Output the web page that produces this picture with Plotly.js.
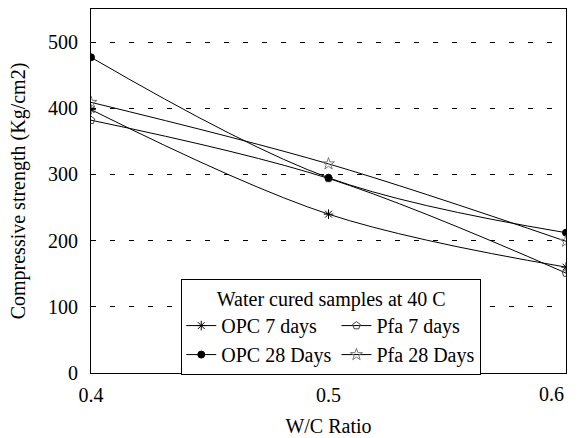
<!DOCTYPE html>
<html><head><meta charset="utf-8">
<script src="https://cdn.plot.ly/plotly-3.0.1.min.js"></script>
<style>html,body{margin:0;padding:0;background:#fff;}#chart{width:578px;height:438px;}</style>
</head><body><div id="chart"></div>
<script>
const wcRatio = [0.4, 0.5, 0.6];
const opc7 = [398, 240, 160];
const pfa7 = [382, 294, 151];
const opc28 = [477, 295, 212];
const pfa28 = [409, 316, 199];
const seriesNames = ['OPC 7 days', 'Pfa 7 days', 'OPC 28 Days', 'Pfa 28 Days'];
const legendTitle = 'Water cured samples at 40 C';
const xTicks = [0.4, 0.5, 0.6];
const yTicks = [0, 100, 200, 300, 400, 500];

const F = '"Liberation Serif", "Times New Roman", "DejaVu Serif", serif';
function tr(y, name, group, symbol, mcolor, size) {
  return {x: wcRatio, y: y, name: name, legendgroup: group, type: 'scatter', mode: 'lines+markers',
    line: {color: '#000', width: 1, shape: 'spline', smoothing: 1},
    marker: {symbol: symbol, size: size, color: mcolor, line: {color: mcolor, width: 1}}};
}
const data = [
  tr(opc7, seriesNames[0], 'opc', 'asterisk-open', '#000', 8),
  tr(pfa7, seriesNames[1], 'pfa', 'pentagon-open', '#444', 8),
  tr(opc28, seriesNames[2], 'opc', 'circle', '#000', 7),
  tr(pfa28, seriesNames[3], 'pfa', 'star-open', '#777', 9)
];
// the last x tick label is right-aligned to the axis end (as in the original), drawn as an annotation
const lastX = xTicks[xTicks.length - 1];
const xTickText = xTicks.map((v, i) => i === xTicks.length - 1 ? '' : v.toFixed(1));
const layout = {
  width: 578, height: 438,
  margin: {l: 91, r: 12, t: 9, b: 65},
  paper_bgcolor: '#fff', plot_bgcolor: '#fff',
  font: {family: F, size: 20, color: '#000'},
  xaxis: {range: [0.4, 0.6], tickvals: xTicks, ticktext: xTickText,
    showgrid: false, zeroline: false, showline: true, mirror: true, linecolor: '#000', linewidth: 1,
    ticks: '', tickfont: {family: F, size: 20}, ticklabelstandoff: 4,
    title: {text: 'W/C Ratio', font: {family: F, size: 20}, standoff: 13}},
  yaxis: {range: [0, 550], tickvals: yTicks, showgrid: true, gridcolor: '#000', gridwidth: 1,
    griddash: '5px,14px', zeroline: false, showline: true, mirror: true, linecolor: '#000', linewidth: 1,
    ticks: '', tickfont: {family: F, size: 20}, ticklabelstandoff: 8,
    title: {text: 'Compressive strength (Kg/cm2)', font: {family: F, size: 20}, standoff: 17}},
  annotations: [{x: lastX, xref: 'x', y: 0, yref: 'y', text: lastX.toFixed(1), showarrow: false,
    xanchor: 'right', yanchor: 'top', yshift: -8, font: {family: F, size: 20, color: '#000'}}],
  legend: {x: 0.19, y: 0.258, xanchor: 'left', yanchor: 'top', orientation: 'h',
    traceorder: 'grouped', tracegroupgap: 0,
    bgcolor: '#fff', bordercolor: '#000', borderwidth: 1, font: {family: F, size: 20},
    itemwidth: 30,
    title: {text: legendTitle, side: 'top center', font: {family: F, size: 20}}},
  showlegend: true
};
Plotly.newPlot('chart', data, layout, {displayModeBar: false, staticPlot: true});
</script></body></html>
